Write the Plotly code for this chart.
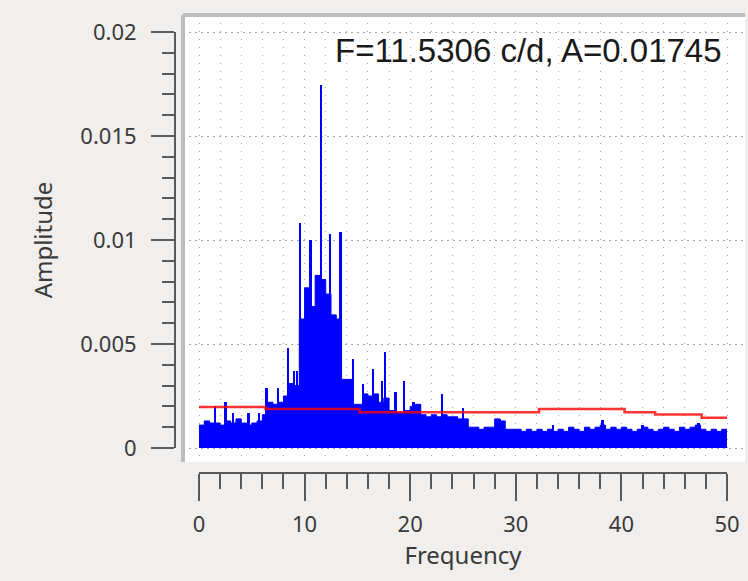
import plotly.graph_objects as go

W, H = 748, 581

# ---- data ----
# upper envelope of the amplitude spectrum, every 0.5 c/d (units of 1e-4)
env_freq = [i * 0.5 for i in range(101)]
env_amp_e4 = [
    11, 13, 12, 12, 11, 13, 12, 14, 12, 11,   # 0.0 - 4.5
    12, 13, 16, 22, 21, 22, 25, 31, 30, 62,   # 5.0 - 9.5
    77, 68, 83, 81, 74, 64, 62, 33, 33, 21,   # 10.0 - 14.5
    21, 26, 25, 26, 22, 24, 18, 17, 17, 18,   # 15.0 - 19.5
    20, 21, 16, 15, 16, 15, 16, 15, 15, 14,   # 20.0 - 24.5
    14, 10, 10, 9, 10, 10, 14, 13, 9, 9,      # 25.0 - 29.5
    9, 8, 9, 8, 9, 8, 9, 8, 9, 8,             # 30.0 - 34.5
    10, 9, 8, 10, 9, 10, 11, 9, 10, 9,        # 35.0 - 39.5
    10, 9, 8, 9, 10, 9, 8, 9, 10, 9,          # 40.0 - 44.5
    8, 10, 9, 10, 11, 9, 8, 9, 8, 9,          # 45.0 - 49.5
    9,                                        # 50.0
]
env_amp = [v * 1e-4 for v in env_amp_e4]

# individual peaks standing above the envelope
spike_freq = [1.5, 2.5, 3.2, 4.7, 5.7, 6.4, 7.5, 8.4, 9.0, 9.3, 9.56,
              10.57, 11.53, 12.4, 13.4, 14.6, 15.5, 16.5, 17.3, 17.6,
              18.6, 19.4, 20.3, 23.0, 25.0, 28.5, 33.5, 38.2, 42.0, 47.3]
spike_amp_e4 = [20, 22, 17, 17, 17, 29, 29, 48, 37, 37, 108,
                100, 174.5, 103, 104, 43, 31, 38, 32, 46,
                27, 32, 22, 26, 19, 14, 11, 13.4, 11, 12]
spike_amp = [v * 1e-4 for v in spike_amp_e4]

# significance (noise) level
noise_freq = [0, 6.3, 15.2, 32.2, 40.3, 43.2, 47.6, 50]
noise_amp = [0.00197, 0.00188, 0.00172, 0.00187, 0.00172, 0.00161, 0.00145, 0.00145]

x_ticks = [0, 10, 20, 30, 40, 50]
y_ticks = [0, 0.005, 0.01, 0.015, 0.02]
y_ticktext = ["0", "0.005", "0.01", "0.015", "0.02"]
annotation_text = "F=11.5306 c/d, A=0.01745"

# ---- layout helpers (pixel -> paper) ----
def px(x):
    return x / W

def py(y):
    return 1 - y / H

box_l, box_r, box_t, box_b = 183, 745, 15, 462
x0_px, x50_px = 199, 727
y0_px, y02_px = 448, 32
ux = (x50_px - x0_px) / 50.0
uy = (y0_px - y02_px) / 0.02
xr = [(box_l - x0_px) / ux, (box_r - x0_px) / ux]
yr = [(y0_px - box_b) / uy, (y0_px - box_t) / uy]

tick_font = dict(family="Noto Sans", size=22, color="#3a3a3a")
title_font = dict(family="Noto Sans", size=24, color="#3a3a3a")
axis_col = "#5a5a5a"
grid_col = "#a8a8a8"
blue = "#0000ff"

fig = go.Figure()

fig.add_trace(go.Scatter(x=env_freq, y=env_amp, mode="lines", line=dict(color=blue, width=1, shape="hv"),
                         fill="tozeroy", fillcolor=blue, hoverinfo="skip", showlegend=False))
fig.add_trace(go.Bar(x=spike_freq, y=spike_amp, width=0.22, marker=dict(color=blue, line=dict(width=0)),
                     showlegend=False, hoverinfo="skip"))
fig.add_trace(go.Scatter(x=noise_freq, y=noise_amp, mode="lines",
                         line=dict(color="rgba(255,0,0,0.8)", width=2.5, shape="hv"),
                         showlegend=False, hoverinfo="skip"))
# invisible trace so that the frame axes are drawn
fig.add_trace(go.Scatter(x=[0, 50], y=[0, 0.02], xaxis="x2", yaxis="y2", mode="markers",
                         marker=dict(opacity=0), showlegend=False, hoverinfo="skip"))

fig.update_layout(
    width=W, height=H,
    margin=dict(l=0, r=0, t=0, b=0),
    paper_bgcolor="#f0efed",
    plot_bgcolor="rgba(0,0,0,0)",
    bargap=0,
    xaxis=dict(domain=[px(box_l), px(box_r)], range=xr, showticklabels=False, ticks="", automargin=False,
               showgrid=True, dtick=2, tick0=0, gridcolor=grid_col, griddash="1px,7px", gridwidth=1,
               zeroline=False, showline=False, anchor="y"),
    yaxis=dict(domain=[py(box_b), py(box_t)], range=yr, showticklabels=False, ticks="", automargin=False,
               showgrid=True, dtick=0.005, tick0=0, gridcolor=grid_col, griddash="2px,4px", gridwidth=1,
               zeroline=False, showline=False, anchor="x"),
    xaxis2=dict(domain=[px(x0_px), px(x50_px)], range=[0, 50], anchor="free", position=py(473), automargin=False,
                showline=True, linecolor=axis_col, linewidth=2, ticks="outside", ticklen=27, tickwidth=2,
                tickcolor=axis_col, tickvals=x_ticks, tickfont=tick_font, showgrid=False, zeroline=False,
                minor=dict(dtick=2, tick0=0, ticklen=15, tickwidth=2, tickcolor=axis_col, ticks="outside", showgrid=False),
                title=dict(text="Frequency", font=title_font, standoff=8),
                ticklabelstandoff=5),
    yaxis2=dict(domain=[py(y0_px), py(y02_px)], range=[0, 0.02], anchor="free", position=px(175), automargin=False,
                showline=True, linecolor=axis_col, linewidth=2, ticks="outside", ticklen=23, tickwidth=2,
                tickcolor=axis_col, tickvals=y_ticks, ticktext=y_ticktext,
                tickfont=tick_font, showgrid=False, zeroline=False,
                minor=dict(dtick=0.001, tick0=0, ticklen=12, tickwidth=2, tickcolor=axis_col, ticks="outside", showgrid=False),
                title=dict(text="Amplitude", font=title_font, standoff=20),
                ticklabelstandoff=10),
    shapes=[
        dict(type="rect", xref="paper", yref="paper", x0=px(box_l), x1=px(box_r), y0=py(box_b), y1=py(box_t),
             fillcolor="#ffffff", line=dict(width=0), layer="below"),
        dict(type="line", xref="paper", yref="paper", x0=px(box_l), x1=px(box_l), y0=py(box_b), y1=py(box_t),
             line=dict(color="#bdbdbd", width=4)),
        dict(type="line", xref="paper", yref="paper", x0=px(box_l), x1=px(box_r), y0=py(box_t), y1=py(box_t),
             line=dict(color="#bdbdbd", width=4)),
    ],
    annotations=[
        dict(text=annotation_text, xref="paper", yref="paper", x=px(724), y=py(50), xanchor="right", yanchor="middle",
             showarrow=False, font=dict(family="Liberation Sans", size=33, color="#1a1a1a")),
    ],
)

fig.write_html("out.html")
